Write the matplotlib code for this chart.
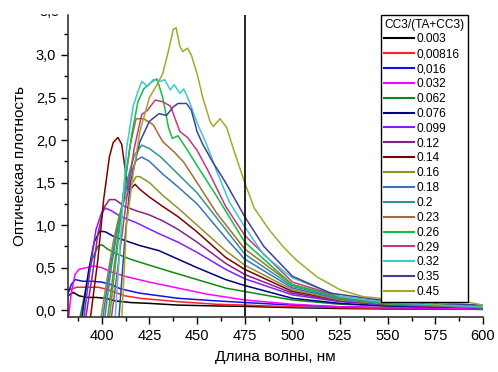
import numpy as np
from matplotlib import pyplot as plt
from matplotlib.patches import Rectangle
from matplotlib.ticker import MultipleLocator, FuncFormatter

plt.rcParams['font.family'] = ['Liberation Sans', 'DejaVu Sans']

# Данные (длина волны, нм / оптическая плотность)
x_003 = [382.3, 385, 388, 392, 397, 402, 407, 415, 425, 440, 460, 475, 500, 525, 550, 600]
y_003 = [0.17, 0.21, 0.17, 0.15, 0.15, 0.14, 0.11, 0.09, 0.08, 0.06, 0.05, 0.045, 0.03, 0.02, 0.015, 0.01]

x_00816 = [382.3, 384, 387, 392, 398, 402, 407, 412, 420, 440, 460, 475, 500, 525, 550, 600]
y_00816 = [0.22, 0.25, 0.27, 0.27, 0.27, 0.25, 0.21, 0.17, 0.14, 0.1, 0.07, 0.06, 0.04, 0.03, 0.02, 0.01]

x_016 = [382.3, 384, 386, 390, 395, 400, 405, 410, 420, 440, 460, 475, 500, 525, 550, 600]
y_016 = [0.2, 0.3, 0.36, 0.34, 0.34, 0.33, 0.3, 0.25, 0.2, 0.14, 0.11, 0.09, 0.06, 0.04, 0.03, 0.02]

x_032 = [382.5, 384, 386, 388, 392, 396, 400, 405, 412, 425, 440, 455, 475, 500, 525, 550, 600]
y_032 = [-0.1, 0.2, 0.42, 0.48, 0.5, 0.52, 0.5, 0.45, 0.4, 0.33, 0.26, 0.19, 0.12, 0.07, 0.04, 0.03, 0.02]

x_062 = [388.5, 392, 395, 398, 400, 403, 407, 415, 422, 435, 450, 465, 475, 500, 525, 550, 600]
y_062 = [-0.1, 0.3, 0.6, 0.75, 0.77, 0.72, 0.67, 0.6, 0.55, 0.46, 0.36, 0.26, 0.22, 0.12, 0.07, 0.05, 0.03]

x_076 = [389.5, 393, 396, 399, 402, 406, 412, 420, 430, 440, 450, 465, 475, 500, 525, 550, 600]
y_076 = [-0.1, 0.45, 0.8, 0.93, 0.92, 0.87, 0.82, 0.76, 0.7, 0.6, 0.5, 0.36, 0.29, 0.14, 0.08, 0.05, 0.03]

x_099 = [390.5, 394, 397, 400, 402, 405, 410, 418, 430, 440, 450, 465, 475, 500, 525, 550, 600]
y_099 = [-0.1, 0.5, 0.95, 1.15, 1.2, 1.17, 1.1, 1.03, 0.9, 0.8, 0.68, 0.48, 0.37, 0.18, 0.1, 0.06, 0.03]

x_12 = [391.5, 395, 398, 401, 404, 407, 412, 418, 425, 432, 440, 450, 465, 475, 500, 525, 550, 600]
y_12 = [-0.1, 0.4, 0.9, 1.2, 1.3, 1.3, 1.22, 1.17, 1.12, 1.05, 0.95, 0.8, 0.55, 0.42, 0.2, 0.11, 0.07, 0.03]

x_14 = [394, 398, 401, 404, 406, 408.5, 410.5, 412, 414, 417.5, 420, 425, 432, 440, 450, 465, 475, 500, 525, 550, 600]
y_14 = [-0.1, 0.6, 1.3, 1.8, 1.97, 2.03, 1.95, 1.7, 1.4, 1.48, 1.42, 1.33, 1.22, 1.1, 0.92, 0.62, 0.48, 0.22, 0.12, 0.07, 0.03]

x_16 = [399.5, 403, 406, 409, 412, 415, 418, 420, 425, 432, 440, 450, 465, 475, 500, 525, 550, 600]
y_16 = [-0.1, 0.4, 0.8, 1.1, 1.3, 1.45, 1.57, 1.57, 1.5, 1.35, 1.2, 1.0, 0.7, 0.53, 0.24, 0.12, 0.07, 0.03]

x_18 = [400.5, 404, 408, 412, 415, 418, 421, 425, 432, 440, 450, 465, 475, 500, 525, 550, 600]
y_18 = [-0.1, 0.45, 0.95, 1.35, 1.6, 1.76, 1.8, 1.75, 1.6, 1.45, 1.25, 0.85, 0.6, 0.26, 0.13, 0.08, 0.03]

x_2 = [401.5, 405, 409, 413, 417, 421, 425, 431, 440, 450, 465, 475, 500, 525, 550, 600]
y_2 = [-0.1, 0.5, 1.05, 1.5, 1.82, 1.94, 1.9, 1.8, 1.6, 1.38, 0.95, 0.66, 0.28, 0.14, 0.08, 0.03]

x_23 = [403, 407, 411, 415, 418, 422, 427, 432, 438, 443, 450, 460, 475, 500, 525, 550, 600]
y_23 = [-0.1, 0.6, 1.3, 1.95, 2.25, 2.25, 2.18, 1.98, 1.86, 1.74, 1.5, 1.15, 0.72, 0.3, 0.15, 0.09, 0.04]

x_26 = [404, 408, 412, 416, 419, 422, 426, 429, 432, 435, 437, 440, 445, 450, 460, 475, 500, 525, 550, 600]
y_26 = [-0.1, 0.7, 1.5, 2.1, 2.45, 2.6, 2.68, 2.72, 2.5, 2.15, 2.02, 2.05, 1.88, 1.7, 1.35, 0.8, 0.3, 0.15, 0.08, 0.04]

x_29 = [405, 409, 413, 417, 421, 424, 428, 432, 436, 438, 441, 445, 450, 456, 465, 475, 500, 525, 550, 600]
y_29 = [-0.1, 0.6, 1.3, 1.9, 2.3, 2.35, 2.47, 2.45, 2.4, 2.28, 2.1, 2.03, 1.88, 1.63, 1.22, 0.88, 0.33, 0.16, 0.09, 0.04]

x_32 = [407, 410, 413, 416.5, 419, 421, 424, 427, 431, 433, 436, 438, 441, 443, 446, 450, 455, 460, 467, 475, 485, 500, 525, 550, 600]
y_32 = [-0.1, 0.9, 1.9, 2.4, 2.57, 2.69, 2.63, 2.71, 2.69, 2.71, 2.59, 2.65, 2.55, 2.6, 2.45, 2.2, 1.95, 1.65, 1.27, 0.98, 0.65, 0.38, 0.16, 0.09, 0.04]

x_35 = [409, 412, 415, 420, 425, 430, 434, 437.5, 440, 444.5, 447, 450, 453, 458, 465, 475, 485, 500, 520, 546, 575, 600]
y_35 = [-0.1, 0.8, 1.5, 1.98, 2.22, 2.31, 2.29, 2.39, 2.43, 2.43, 2.35, 2.1, 1.95, 1.75, 1.5, 1.1, 0.75, 0.4, 0.2, 0.12, 0.08, 0.06]

x_45 = [410.5, 413, 416.5, 420, 425, 429, 432, 435, 437.5, 439, 441, 442.5, 445, 447, 450, 453, 456.8, 458.5, 462, 465.5, 469, 475, 480, 488, 495, 502, 513, 525, 537, 546, 560, 575, 591, 600]
y_45 = [-0.1, 1.0, 1.6, 2.1, 2.5, 2.65, 2.78, 3.05, 3.3, 3.32, 3.1, 3.04, 3.08, 3.0, 2.78, 2.5, 2.22, 2.16, 2.25, 2.15, 1.9, 1.5, 1.2, 0.94, 0.75, 0.59, 0.39, 0.24, 0.16, 0.14, 0.12, 0.07, 0.1, 0.06]

labels = ['0.003', '0,00816', '0,016', '0.032', '0.062', '0.076', '0.099', '0.12', '0.14',
          '0.16', '0.18', '0.2', '0.23', '0.26', '0.29', '0.32', '0.35', '0.45']
xs = [x_003, x_00816, x_016, x_032, x_062, x_076, x_099, x_12, x_14,
      x_16, x_18, x_2, x_23, x_26, x_29, x_32, x_35, x_45]
ys = [y_003, y_00816, y_016, y_032, y_062, y_076, y_099, y_12, y_14,
      y_16, y_18, y_2, y_23, y_26, y_29, y_32, y_35, y_45]
colors = ['#000000', '#ff2020', '#1010f0', '#ff00ff', '#108a10', '#000080', '#8020ff', '#8a208a', '#800000',
          '#929228', '#3d73b8', '#2f9494', '#a86b2e', '#10c040', '#c8357f', '#40c8d0', '#40409a', '#a5a82a']

fig = plt.figure(figsize=(4.98, 3.72), dpi=100)
ax = fig.add_axes([68/498, 55/372, 415/498, 302/372])

for x, y, c, lab in zip(xs, ys, colors, labels):
    ax.plot(x, y, color=c, lw=1.1, label=lab)

ax.axvline(475, color='black', lw=1.2)

ax.set_xlim(382.3, 600)
ax.set_ylim(-0.08, 3.47)
ax.xaxis.set_major_locator(MultipleLocator(25))
ax.xaxis.set_minor_locator(MultipleLocator(12.5))
ax.yaxis.set_major_locator(MultipleLocator(0.5))
ax.yaxis.set_minor_locator(MultipleLocator(0.25))
ax.yaxis.set_major_formatter(FuncFormatter(lambda v, p: ('%.1f' % v).replace('.', ',')))
ax.tick_params(which='major', direction='out', length=5, width=1, labelsize=10.5)
ax.tick_params(which='minor', direction='out', length=3, width=1)
for s in ['top', 'right']:
    ax.spines[s].set_visible(False)
for s in ['left', 'bottom']:
    ax.spines[s].set_linewidth(1.2)
    ax.spines[s].set_color('#333333')

ax.set_xlabel('Длина волны, нм', fontsize=11, labelpad=5)
ax.set_ylabel('Оптическая плотность', fontsize=11, labelpad=6)

# подпись 3,5, обрезанная сверху
ax.text(-0.02, 3.5, '3,5', transform=ax.get_yaxis_transform(), ha='right', va='center',
        fontsize=10.5, clip_on=False)
fig.patches.append(Rectangle((0, 1 - 13/372), 0.14, 13/372, transform=fig.transFigure,
                             color='white', zorder=10))

leg = ax.legend(title='CC3/(TA+CC3)', loc='upper right', bbox_to_anchor=(0.964, 1.0),
                fontsize=8.6, title_fontsize=8.6, frameon=True, fancybox=False,
                edgecolor='black', framealpha=1, handlelength=2.5, handletextpad=0.2,
                labelspacing=0.24, borderpad=0.3, borderaxespad=0)
leg._legend_box.align = 'left'
leg.get_frame().set_linewidth(1.0)
for line in leg.get_lines():
    line.set_linewidth(1.5)

fig.savefig('out.png', dpi=100)
